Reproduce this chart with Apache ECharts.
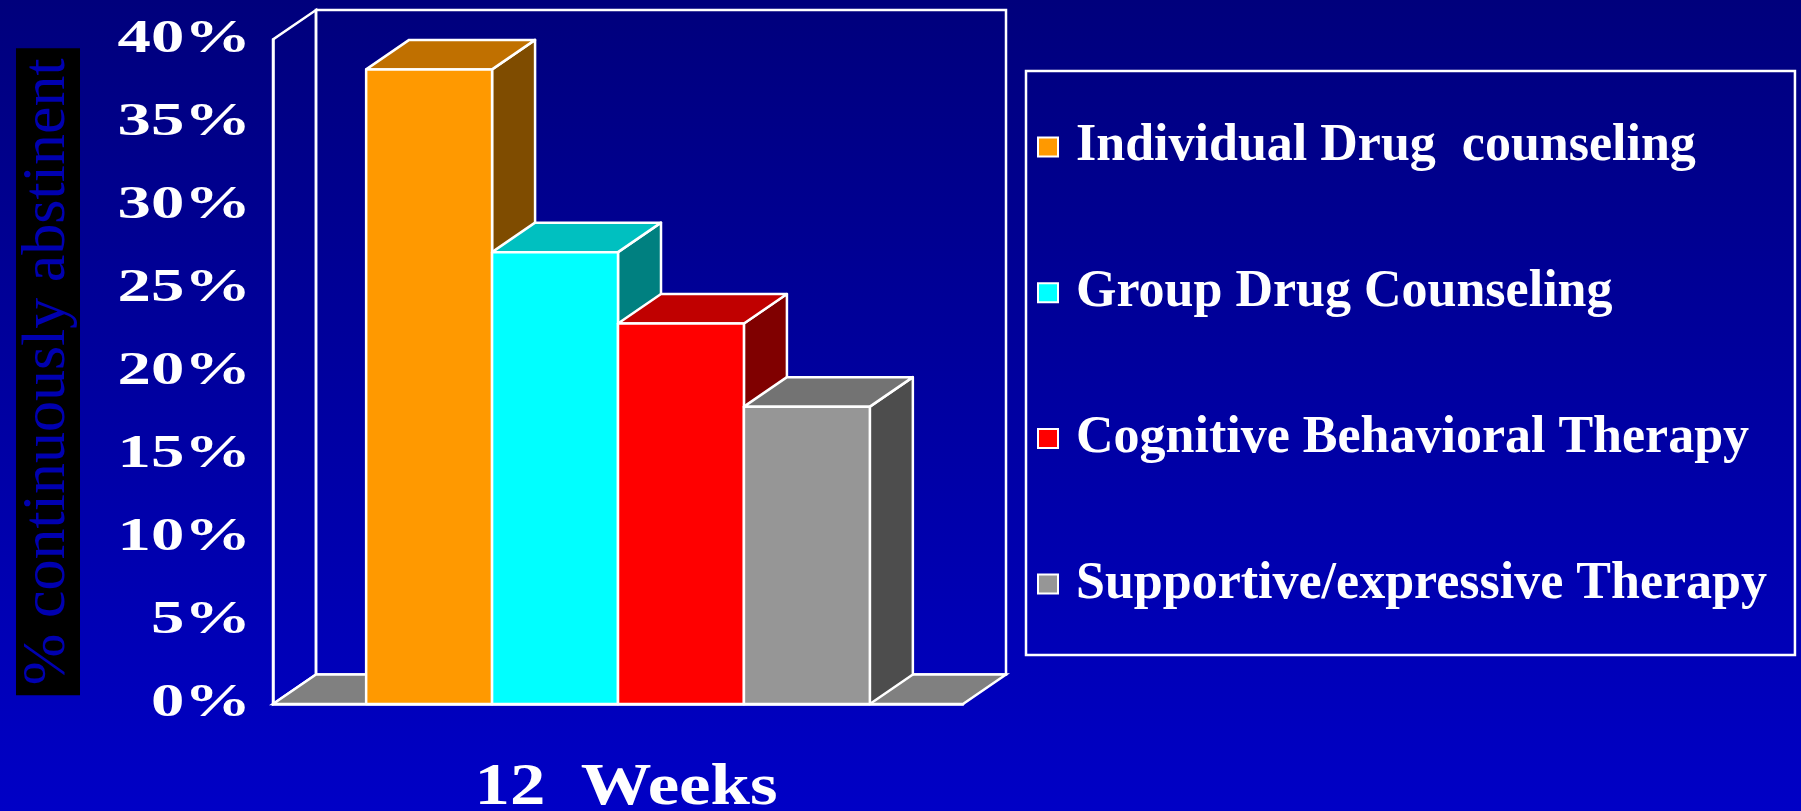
<!DOCTYPE html>
<html>
<head>
<meta charset="utf-8">
<script src="https://cdn.jsdelivr.net/npm/echarts@6/dist/echarts.min.js"></script>
<style>
  html, body { margin: 0; padding: 0; }
  #chart { width: 1801px; height: 811px; }
</style>
</head>
<body>
<div id="chart"></div>
<script>
// data
var categories = ['12  Weeks'];
var seriesNames = ['Individual Drug  counseling', 'Group Drug Counseling', 'Cognitive Behavioral Therapy', 'Supportive/expressive Therapy'];
var values = [38.2, 27.2, 22.9, 17.9];
var yTicks = [0, 5, 10, 15, 20, 25, 30, 35, 40];
var yTickLabels = ['0%', '5%', '10%', '15%', '20%', '25%', '30%', '35%', '40%'];

// look
var frontColors = ['#ff9900', '#00ffff', '#ff0000', '#969696'];
var topColors = ['#c07000', '#00c0c0', '#c00000', '#737373'];
var sideColors = ['#7f4c00', '#008080', '#800000', '#4d4d4d'];
var DX = 43, DY = -29.5;   // depth of the 3d box
var GAP = 0.27;            // category gap ratio
var FONT = '"Liberation Serif", "Times New Roman", serif';

var chart = echarts.init(document.getElementById('chart'));

// walls, floor and the (horizontally stretched) axis texts
function renderWalls(params, api) {
  var cs = params.coordSys;
  var x0 = cs.x, x1 = cs.x + cs.width, yT = cs.y, yB = cs.y + cs.height;
  var line = { stroke: '#fff', lineWidth: 2.5 };
  var kids = [
    { type: 'rect', shape: { x: x0 + DX, y: yT + DY, width: x1 - x0, height: yB - yT },
      style: Object.assign({ fill: 'none' }, line) },
    { type: 'polygon', shape: { points: [[x0, yT], [x0, yB], [x0 + DX, yB + DY], [x0 + DX, yT + DY]] },
      style: Object.assign({ fill: 'none' }, line) },
    { type: 'polygon', shape: { points: [[x0, yB], [x1, yB], [x1 + DX, yB + DY], [x0 + DX, yB + DY]] },
      style: Object.assign({ fill: '#808080' }, line) }
  ];
  yTicks.forEach(function (v, i) {
    var p = api.coord([0, v]);
    kids.push({
      type: 'text', x: x0 - 22, y: p[1], scaleX: 1.42,
      style: { text: yTickLabels[i], fill: '#fff', font: 'bold 47px ' + FONT, align: 'right', verticalAlign: 'middle' }
    });
  });
  categories.forEach(function (c, i) {
    var p = api.coord([i, 0]);
    kids.push({
      type: 'text', x: p[0] + 8, y: p[1] + 84, scaleX: 1.18,
      style: { text: c, fill: '#fff', font: 'bold 60px ' + FONT, align: 'center', verticalAlign: 'middle' }
    });
  });
  return { type: 'group', children: kids };
}

function makeBarRenderer(idx) {
  return function (params, api) {
    var top = api.coord([api.value(0), api.value(1)]);
    var base = api.coord([api.value(0), 0]);
    var band = api.size([1, 0])[0];
    var total = band * (1 - GAP);
    var w = total / seriesNames.length;
    var x = top[0] - total / 2 + idx * w;
    var yt = top[1], yb = base[1];
    var edge = { stroke: '#fff', lineWidth: 2.5, lineJoin: 'round' };
    return {
      type: 'group',
      children: [
        { type: 'polygon', shape: { points: [[x + w, yt], [x + w + DX, yt + DY], [x + w + DX, yb + DY], [x + w, yb]] },
          style: Object.assign({ fill: sideColors[idx] }, edge) },
        { type: 'polygon', shape: { points: [[x, yt], [x + DX, yt + DY], [x + w + DX, yt + DY], [x + w, yt]] },
          style: Object.assign({ fill: topColors[idx] }, edge) },
        { type: 'rect', shape: { x: x, y: yt, width: w, height: yb - yt },
          style: Object.assign({ fill: frontColors[idx] }, edge) }
      ]
    };
  };
}

var series = [{
  type: 'custom',
  name: 'walls',
  renderItem: renderWalls,
  data: [[0, 0]],
  silent: true,
  z: 1
}];
seriesNames.forEach(function (name, i) {
  series.push({
    type: 'custom',
    name: name,
    renderItem: makeBarRenderer(i),
    encode: { x: 0, y: 1 },
    itemStyle: { color: frontColors[i] },
    data: [[0, values[i]]],
    z: 2
  });
});

var option = {
  animation: false,
  backgroundColor: {
    type: 'linear', x: 0, y: 0, x2: 0, y2: 1,
    colorStops: [{ offset: 0, color: '#00007c' }, { offset: 1, color: '#0000c6' }]
  },
  grid: { left: 273, right: 838, top: 39.5, bottom: 107 },
  xAxis: {
    type: 'category',
    data: categories,
    axisLine: { lineStyle: { color: '#fff', width: 2.5 } },
    axisTick: { show: false },
    axisLabel: { show: false }
  },
  yAxis: {
    type: 'value',
    min: yTicks[0], max: yTicks[yTicks.length - 1], interval: yTicks[1] - yTicks[0],
    name: '% continuously abstinent',
    nameLocation: 'middle',
    nameRotate: 90,
    nameGap: 193,
    nameTextStyle: {
      color: '#0000b0', fontFamily: FONT, fontSize: 62,
      backgroundColor: '#000', padding: [1, 10, 1, 10]
    },
    axisLine: { show: true, lineStyle: { color: '#fff', width: 2.5 } },
    axisTick: { show: false },
    splitLine: { show: false },
    axisLabel: { show: false }
  },
  legend: {
    data: seriesNames,
    orient: 'vertical',
    left: 1026, top: 71,
    padding: [50, 28, 45, 11],
    itemGap: 93.7,
    itemWidth: 20, itemHeight: 19,
    icon: 'rect',
    borderColor: '#fff', borderWidth: 2.5,
    itemStyle: { borderColor: '#fff', borderWidth: 2 },
    selectedMode: false,
    textStyle: {
      color: '#fff', fontFamily: FONT, fontWeight: 'bold', fontSize: 52, lineHeight: 52,
      padding: [0, 0, 0, 13]
    }
  },
  series: series
};

chart.setOption(option);
</script>
</body>
</html>
